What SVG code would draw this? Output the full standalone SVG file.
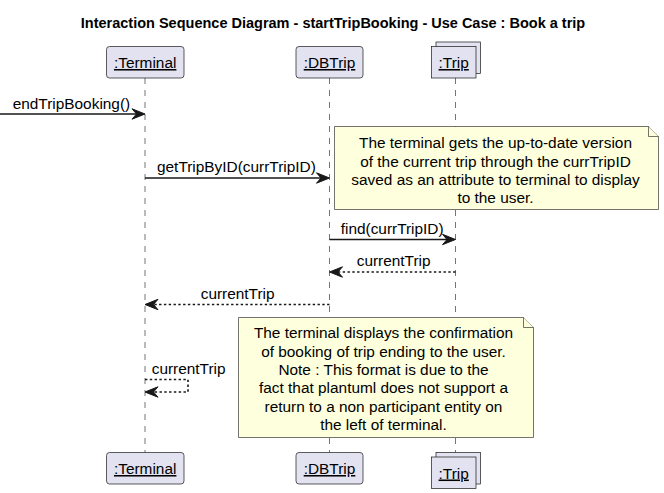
<svg xmlns="http://www.w3.org/2000/svg" width="664" height="493" viewBox="0 0 664 493">
<defs>
<style>
.bg{fill:#FFFFFF}
.t{font-family:"Liberation Sans",Arial,sans-serif;font-size:15.4px;fill:#000000}
.title{font-family:"Liberation Sans",Arial,sans-serif;font-size:14.5px;font-weight:bold;fill:#000000}
.p{fill:#E2E2F0;stroke:#181818;stroke-width:0.7}
.life{stroke:#181818;stroke-width:0.6;stroke-dasharray:6,6;fill:none}
.note{fill:#FEFFDD;stroke:#181818;stroke-width:0.6}
.msg{stroke:#181818;stroke-width:1.6;fill:none}
.ret{stroke:#181818;stroke-width:1.6;fill:none;stroke-dasharray:2.4,2.4}
.head{fill:#181818;stroke:#181818;stroke-width:1}
</style>
</defs>
<rect class="bg" x="0" y="0" width="664" height="493"/>
<text class="title" x="333" y="28" text-anchor="middle">Interaction Sequence Diagram - startTripBooking - Use Case : Book a trip</text>

<g id="lifelines">
<line class="life" x1="145" y1="78" x2="145" y2="452.5"/>
<line class="life" x1="329.5" y1="78" x2="329.5" y2="452.5"/>
<line class="life" x1="455.5" y1="78" x2="455.5" y2="452.5"/>
</g>

<g id="terminal">
<rect class="p" x="106.5" y="46.5" width="77.5" height="31.5" rx="3"/>
<text class="t" x="145.2" y="68" text-anchor="middle" text-decoration="underline">:Terminal</text>
<rect class="p" x="106.5" y="452.5" width="77.5" height="31.5" rx="3"/>
<text class="t" x="145.2" y="474" text-anchor="middle" text-decoration="underline">:Terminal</text>
</g>

<g id="dbtrip">
<rect class="p" x="296" y="46.5" width="67" height="31.5" rx="3"/>
<text class="t" x="329.5" y="68" text-anchor="middle" text-decoration="underline">:DBTrip</text>
<rect class="p" x="296" y="452.5" width="67" height="31.5" rx="3"/>
<text class="t" x="329.5" y="474" text-anchor="middle" text-decoration="underline">:DBTrip</text>
</g>

<g id="trip">
<rect class="p" x="436" y="42" width="44.5" height="31.5"/>
<rect class="p" x="431.5" y="46.5" width="44.5" height="31.5"/>
<text class="t" x="453.7" y="68" text-anchor="middle" text-decoration="underline">:Trip</text>
<rect class="p" x="436" y="452.5" width="44.5" height="31.5"/>
<rect class="p" x="431.5" y="457" width="44.5" height="31.5"/>
<text class="t" x="453.7" y="478.5" text-anchor="middle" text-decoration="underline">:Trip</text>
</g>

<g id="note1">
<path class="note" d="M334.5,126.5 L648.5,126.5 L658.5,136.5 L658.5,209.5 L334.5,209.5 Z"/>
<path class="note" d="M648.5,126.5 L648.5,136.5 L658.5,136.5"/>
<text class="t" x="495.5" y="148.3" text-anchor="middle">The terminal gets the up-to-date version</text>
<text class="t" x="495.5" y="166.6" text-anchor="middle">of the current trip through the currTripID</text>
<text class="t" x="495.5" y="184.9" text-anchor="middle">saved as an attribute to terminal to display</text>
<text class="t" x="495.5" y="203.2" text-anchor="middle">to the user.</text>
</g>

<g id="note2">
<path class="note" d="M238.5,317.5 L523.5,317.5 L533.5,327.5 L533.5,437.5 L238.5,437.5 Z"/>
<path class="note" d="M523.5,317.5 L523.5,327.5 L533.5,327.5"/>
<text class="t" x="383.5" y="338.3" text-anchor="middle">The terminal displays the confirmation</text>
<text class="t" x="383.5" y="356.6" text-anchor="middle">of booking of trip ending to the user.</text>
<text class="t" x="383.5" y="374.9" text-anchor="middle">Note : This format is due to the</text>
<text class="t" x="383.5" y="393.2" text-anchor="middle">fact that plantuml does not support a</text>
<text class="t" x="383.5" y="411.5" text-anchor="middle">return to a non participant entity on</text>
<text class="t" x="383.5" y="429.8" text-anchor="middle">the left of terminal.</text>
</g>

<g id="connectors">
<line class="msg" x1="0" y1="114" x2="141" y2="114"/>
<polygon class="head" points="132,108.8 145,114 132,119.2 136.5,114"/>
<text class="t" x="12.7" y="108.5">endTripBooking()</text>

<line class="msg" x1="145" y1="178" x2="325.5" y2="178"/>
<polygon class="head" points="316.5,172.8 329.5,178 316.5,183.2 321,178"/>
<text class="t" x="157" y="172">getTripByID(currTripID)</text>

<line class="msg" x1="329.5" y1="239.5" x2="451.5" y2="239.5"/>
<polygon class="head" points="442.5,234.3 455.5,239.5 442.5,244.7 447,239.5"/>
<text class="t" x="340.7" y="233.5">find(currTripID)</text>

<line class="ret" x1="455.5" y1="272" x2="333.5" y2="272"/>
<polygon class="head" points="342.5,266.8 329.5,272 342.5,277.2 338,272"/>
<text class="t" x="356.7" y="266">currentTrip</text>

<line class="ret" x1="329.5" y1="304.5" x2="149" y2="304.5"/>
<polygon class="head" points="158,299.3 145,304.5 158,309.7 153.5,304.5"/>
<text class="t" x="200.7" y="298.5">currentTrip</text>

<polyline class="ret" points="145,379.5 188,379.5 188,392 149,392"/>
<polygon class="head" points="158,386.8 145,392 158,397.2 153.5,392"/>
<text class="t" x="151.7" y="374">currentTrip</text>
</g>
</svg>
